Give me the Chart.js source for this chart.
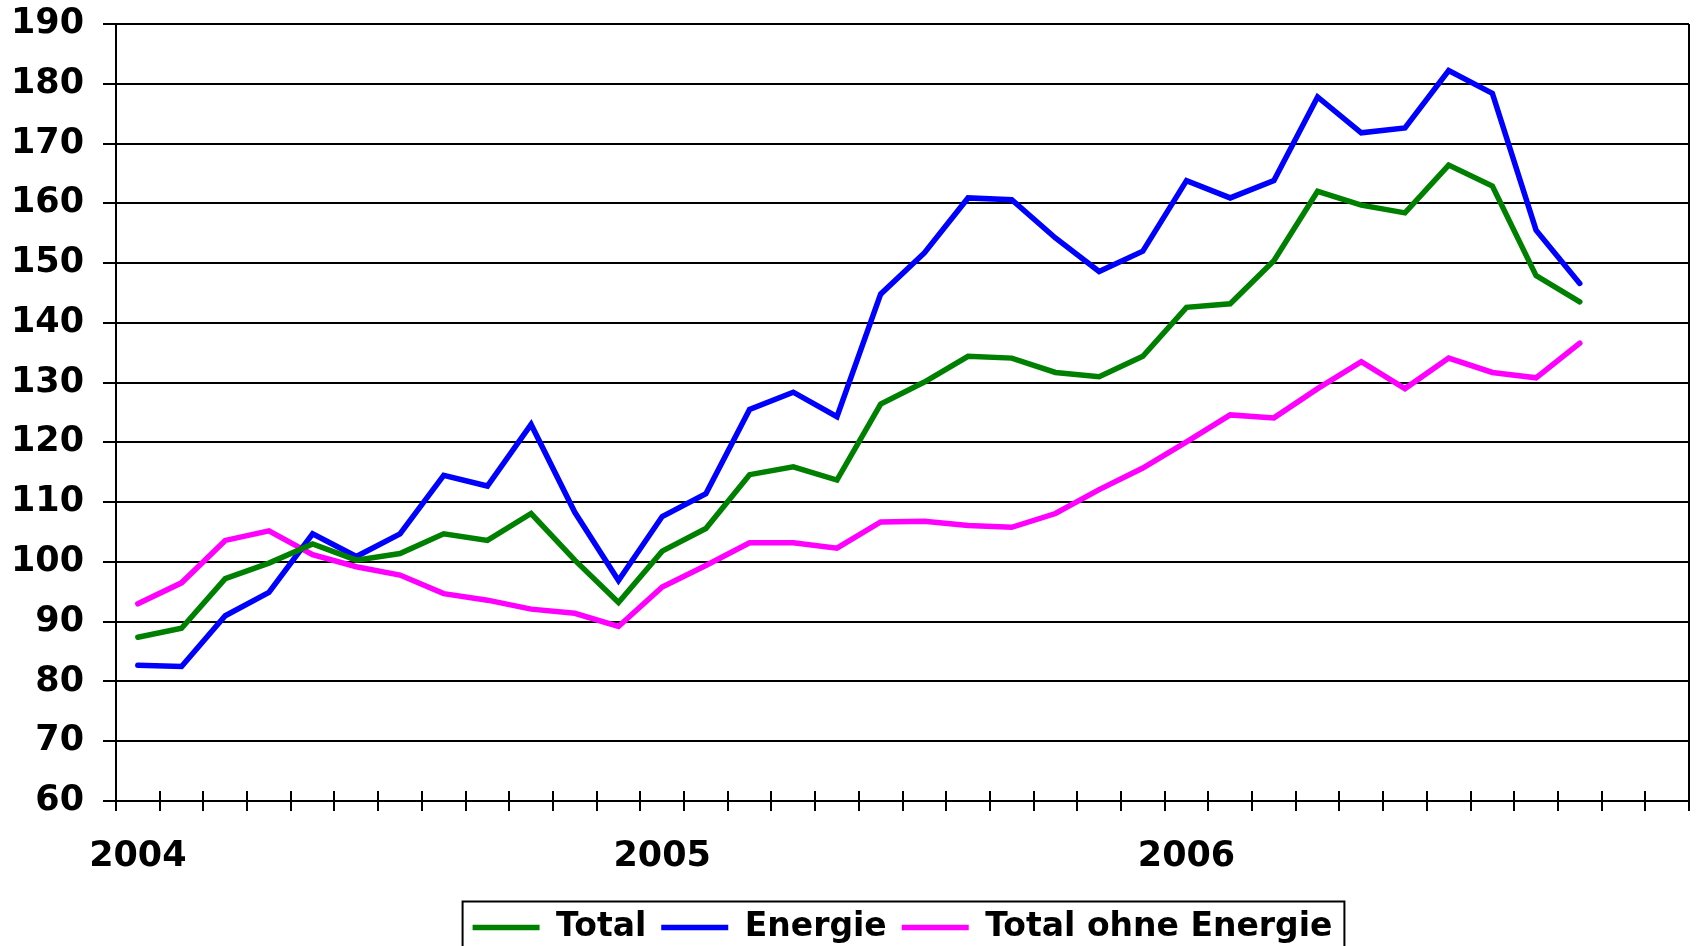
<!DOCTYPE html>
<html>
<head>
<meta charset="utf-8">
<script src="https://cdn.jsdelivr.net/npm/chart.js@4/dist/chart.umd.min.js"></script>
<style>
  html, body { margin: 0; padding: 0; background: #fff; }
  #wrap { width: 1698px; height: 946px; position: relative; }
</style>
</head>
<body>
<div id="wrap"><canvas id="chart"></canvas></div>
<script>
const months = [
  '2004-01', '2004-02', '2004-03', '2004-04', '2004-05', '2004-06', '2004-07', '2004-08', '2004-09', '2004-10', '2004-11', '2004-12',
  '2005-01', '2005-02', '2005-03', '2005-04', '2005-05', '2005-06', '2005-07', '2005-08', '2005-09', '2005-10', '2005-11', '2005-12',
  '2006-01', '2006-02', '2006-03', '2006-04', '2006-05', '2006-06', '2006-07', '2006-08', '2006-09', '2006-10', '2006-11', '2006-12'
];

const total = [87.4, 88.9, 97.2, 99.8, 103.0, 100.3, 101.4, 104.7, 103.6, 108.1, 100.3, 93.2,
  101.8, 105.6, 114.6, 115.9, 113.7, 126.4, 130.1, 134.4, 134.1, 131.7, 131.0, 134.4,
  142.6, 143.2, 150.4, 162.0, 159.7, 158.4, 166.4, 162.9, 147.9, 143.5];

const energie = [82.7, 82.5, 91.0, 94.9, 104.7, 100.9, 104.7, 114.5, 112.7, 123.0, 108.3, 96.9,
  107.6, 111.4, 125.5, 128.4, 124.3, 144.8, 151.7, 160.9, 160.6, 154.2, 148.6, 152.0,
  163.8, 160.9, 163.8, 177.8, 171.8, 172.6, 182.2, 178.4, 155.5, 146.6];

const ohneEnergie = [93.0, 96.5, 103.6, 105.2, 101.2, 99.2, 97.8, 94.7, 93.6, 92.1, 91.4, 89.2,
  95.8, 99.4, 103.2, 103.2, 102.3, 106.7, 106.8, 106.1, 105.8, 108.1, 112.1, 115.7,
  120.1, 124.6, 124.1, 129.0, 133.5, 129.0, 134.1, 131.7, 130.8, 136.6];

const yMin = 60;
const yMax = 190;
const yStep = 10;

const tickFont = { family: '"DejaVu Sans", sans-serif', size: 35, weight: 'bold' };
const legendFont = { family: '"DejaVu Sans", sans-serif', size: 33, weight: 'bold' };

// Excel-Stil: Kreuz-Teilstriche an der x-Achse, Rahmen rechts, Kasten um die Legende
const frame = {
  id: 'frame',
  afterDraw(chart) {
    const ctx = chart.ctx;
    const a = chart.chartArea;
    const x = chart.scales.x;
    const step = (x.right - x.left) / months.length;
    ctx.save();
    ctx.strokeStyle = '#000';
    ctx.lineWidth = 2;
    ctx.beginPath();
    for (let i = 0; i <= months.length; i++) {
      const px = Math.round(x.left + i * step);
      ctx.moveTo(px, a.bottom - 10);
      ctx.lineTo(px, a.bottom);
    }
    ctx.moveTo(a.right, a.top);
    ctx.lineTo(a.right, a.bottom);
    ctx.stroke();

    const hb = chart.legend.legendHitBoxes;
    if (hb && hb.length) {
      const first = hb[0];
      const last = hb[hb.length - 1];
      const cy = first.top + first.height / 2;
      const left = first.left - 10;
      const right = last.left + last.width + 12;
      ctx.beginPath();
      ctx.moveTo(left, chart.height + 5);
      ctx.lineTo(left, cy - 26);
      ctx.lineTo(right, cy - 26);
      ctx.lineTo(right, chart.height + 5);
      ctx.stroke();
    }
    ctx.restore();
  }
};

function line(label, data, color) {
  return {
    label: label,
    data: data,
    borderColor: color,
    backgroundColor: color,
    borderWidth: 5.5,
    borderCapStyle: 'round',
    pointRadius: 0,
    tension: 0
  };
}

new Chart(document.getElementById('chart'), {
  type: 'line',
  data: {
    labels: months,
    datasets: [
      line('Total', total, '#008000'),
      line('Energie', energie, '#0000ff'),
      line('Total ohne Energie', ohneEnergie, '#ff00ff')
    ]
  },
  options: {
    responsive: true,
    maintainAspectRatio: false,
    animation: false,
    layout: { padding: { left: 0, right: 9, top: 24, bottom: -8 } },
    plugins: {
      tooltip: { enabled: false },
      legend: {
        position: 'bottom',
        fullSize: false,
        labels: {
          color: '#000',
          font: legendFont,
          usePointStyle: true,
          pointStyle: 'line',
          pointStyleWidth: 67,
          boxHeight: 5,
          padding: 15
        }
      }
    },
    scales: {
      x: {
        offset: true,
        grid: {
          offset: true,
          drawOnChartArea: false,
          color: '#000',
          lineWidth: 2,
          tickLength: 10
        },
        border: { color: '#000', width: 2 },
        ticks: {
          autoSkip: false,
          maxRotation: 0,
          color: '#000',
          font: tickFont,
          padding: 25,
          callback: function (value) {
            const m = this.getLabelForValue(value);
            return m.endsWith('-01') ? m.slice(0, 4) : '';
          }
        },
        afterFit(scale) {
          scale.paddingLeft = 0;
          scale.paddingRight = 0;
          scale.height = 95;
        }
      },
      y: {
        min: yMin,
        max: yMax,
        grid: { color: '#000', lineWidth: 2, tickLength: 13 },
        border: { color: '#000', width: 2 },
        ticks: {
          stepSize: yStep,
          color: '#000',
          font: tickFont,
          padding: 19
        },
        afterFit(scale) {
          scale.paddingTop = 0;
          scale.paddingBottom = 0;
          scale.width = 116;
        }
      }
    }
  },
  plugins: [frame]
});
</script>
</body>
</html>
